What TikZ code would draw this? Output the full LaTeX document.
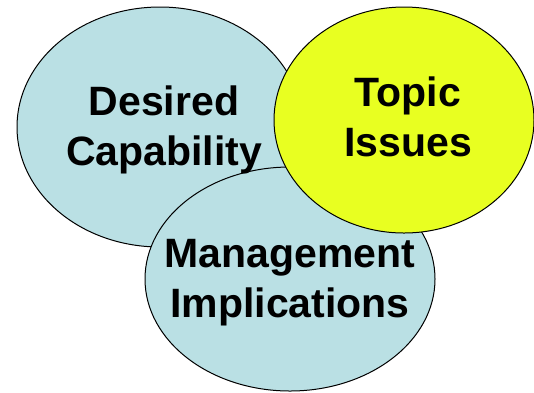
\documentclass[tikz,border=0pt]{standalone}
\usepackage{fontspec}
\setmainfont{Liberation Sans}
\usetikzlibrary{shapes.geometric}
\definecolor{paleblue}{RGB}{186,224,228}
\definecolor{limeyellow}{RGB}{232,255,33}
\tikzset{
  blob/.style={ellipse,draw=black,line width=1pt,inner sep=0pt},
  caption/.style={align=center,font=\fontsize{41}{50}\selectfont\bfseries,inner sep=0pt}
}
\begin{document}
\begin{tikzpicture}[x=1pt,y=-1pt]
		\useasboundingbox (0,0) rectangle (534,392);
		\node[blob,fill=paleblue,minimum width=286pt,minimum height=240pt](cap) at (160,127){};
		\node[blob,fill=paleblue,minimum width=290pt,minimum height=224pt](mgmt) at (290,279){};
		\node[blob,fill=limeyellow,minimum width=260pt,minimum height=226pt](topic) at (404,120){};
		\node[caption](captext) at (164,130){Desired\\Capability};
		\node[caption](topictext) at (408,117){Topic\\Issues};
		\node[caption](mgmttext) at (290,283){Management\\Implications};
	\end{tikzpicture}
\end{document}
